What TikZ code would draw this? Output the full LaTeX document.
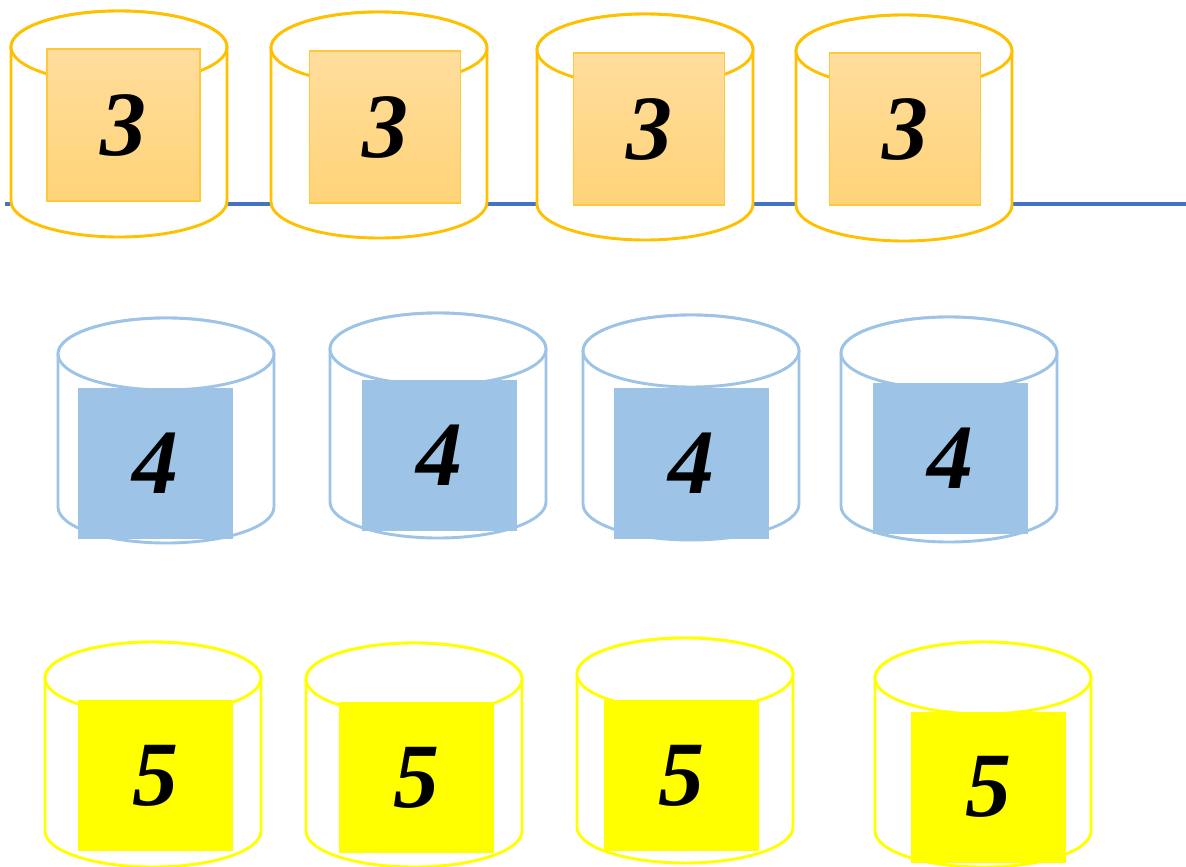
\documentclass[tikz,border=0pt]{standalone}
\usepackage{fontspec}
\setmainfont{Liberation Serif}
\usetikzlibrary{positioning}
\definecolor{drumorange}{HTML}{FFC000}
\definecolor{tileedge}{HTML}{FFC73A}
\definecolor{tiletop}{HTML}{FFDD9C}
\definecolor{tilebot}{HTML}{FFD378}
\definecolor{drumblue}{HTML}{9DC3E6}
\definecolor{drumyellow}{HTML}{FFFF00}
\definecolor{shelfblue}{HTML}{4472C4}

% cylinder: centre x, top ellipse y, bottom ellipse y, colour
\newcommand{\drum}[4]{%
  \filldraw[drum, draw=#4] (#1-108,#2) -- (#1-108,#3)
    arc[start angle=180, end angle=0, x radius=108, y radius=36] -- (#1+108,#2)
    arc[start angle=0, end angle=-180, x radius=108, y radius=36] -- cycle;
  \draw[drum, draw=#4] (#1,#2) ellipse [x radius=108, y radius=36];
}

\begin{document}
\begin{tikzpicture}[x=1pt, y=-1pt,
  drum/.style={fill=white, line width=2.9pt},
  tile/.style={inner sep=0pt, minimum width=155pt, minimum height=151pt,
    font=\fontsize{92}{92}\selectfont\bfseries\itshape},
  tile3/.style={tile, minimum width=151pt, minimum height=152pt,
    top color=tiletop, bottom color=tilebot, draw=tileedge, line width=1.4pt},
  tile4/.style={tile, fill=drumblue},
  tile5/.style={tile, fill=drumyellow}]
\useasboundingbox (0,0) rectangle (1186,867);

\coordinate (shelfL) at (5,204);
\coordinate (shelfR) at (1186,204);
\draw[shelfblue, line width=3.2pt] (shelfL) -- (shelfR);

% row of 3
\drum{119}{47}{201}{drumorange}
\drum{379}{48}{202}{drumorange}
\drum{645}{50}{204}{drumorange}
\drum{904}{51}{205}{drumorange}
\node[tile3, minimum width=153pt] (t31) at (123.5,125) {3};
\node[tile3] (t32) at (385,127) {3};
\node[tile3] (t33) at (649,129) {3};
\node[tile3] (t34) at (905,129) {3};

% row of 4
\drum{166}{354}{507}{drumblue}
\drum{438}{349}{502}{drumblue}
\drum{691}{351}{504}{drumblue}
\drum{949}{353}{506}{drumblue}
\node[tile4] (t41) at (155.5,463) {4};
\node[tile4] (t42) at (439.5,455.5) {4};
\node[tile4] (t43) at (691.5,463) {4};
\node[tile4] (t44) at (950.5,458) {4};

% row of 5
\drum{153}{678}{831}{drumyellow}
\drum{414}{679}{831}{drumyellow}
\drum{685}{674}{827}{drumyellow}
\drum{983}{678}{831}{drumyellow}
\node[tile5] (t51) at (155.5,775.5) {5};
\node[tile5] (t52) at (416.5,777.5) {5};
\node[tile5] (t53) at (681,775.5) {5};
\node[tile5] (t54) at (988.5,787) {5};
\end{tikzpicture}
\end{document}
